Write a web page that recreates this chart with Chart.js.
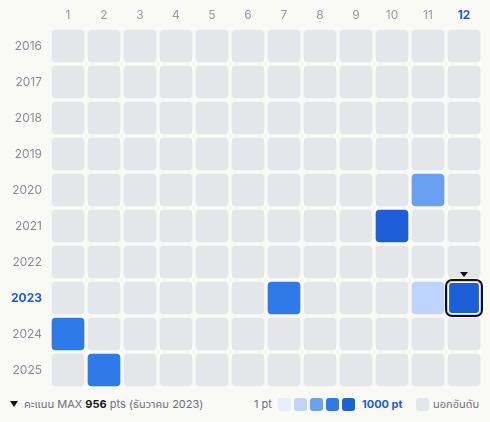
<!DOCTYPE html>
<html>
<head>
<meta charset="utf-8">
<script src="https://cdn.jsdelivr.net/npm/chart.js@4"></script>
<style>
  html, body { margin:0; padding:0; background:#f9f9f6; }
  body { width:490px; height:422px; position:relative; overflow:hidden; font-family: Inter, "Noto Sans", "Noto Sans Thai", sans-serif; }
  #c { position:absolute; left:0; top:0; }
  .lg { position:absolute; top:397px; font-size:11px; line-height:14px; color:#6f6f7c; white-space:nowrap; }
  .sw { position:absolute; top:398px; width:13px; height:13px; border-radius:3px; }
  .tri { position:absolute; left:10px; top:401px; width:0; height:0; border-left:4px solid transparent; border-right:4px solid transparent; border-top:6px solid #111; }
</style>
</head>
<body>
<canvas id="c" width="490" height="390"></canvas>
<div class="tri"></div>
<div class="lg" style="left:24px">คะแนน MAX <b style="color:#1a1a1a">956</b> pts (ธันวาคม 2023)</div>
<div class="lg" style="left:254px">1 pt</div>
<div id="sws"></div>
<div class="lg" style="left:362px;color:#1f5fd6;font-weight:bold">1000 pt</div>
<div class="sw" style="left:416px;background:#e5e6ea"></div>
<div class="lg" style="left:433px">นอกอันดับ</div>
<script>
const months = ['1','2','3','4','5','6','7','8','9','10','11','12'];
const years = [2016,2017,2018,2019,2020,2021,2022,2023,2024,2025];
// scores per year (index = month-1), null = out of ranking
const scores = [
  [null,null,null,null,null,null,null,null,null,null,null,null],
  [null,null,null,null,null,null,null,null,null,null,null,null],
  [null,null,null,null,null,null,null,null,null,null,null,null],
  [null,null,null,null,null,null,null,null,null,null,null,null],
  [null,null,null,null,null,null,null,null,null,null,500,null],
  [null,null,null,null,null,null,null,null,null,900,null,null],
  [null,null,null,null,null,null,null,null,null,null,null,null],
  [null,null,null,null,null,null,700,null,null,null,300,956],
  [700,null,null,null,null,null,null,null,null,null,null,null],
  [null,700,null,null,null,null,null,null,null,null,null,null]
];
const levelColors = ['#e6eefc','#bfd4fa','#6aa0f2','#2f7ae9','#1c5fd6'];
const emptyColor = '#e5e6ea';
const selYear = 2023, selMonth = '12';

function colorFor(v){
  if (v == null) return emptyColor;
  const i = Math.min(4, Math.floor((v-1)/200));
  return levelColors[i];
}

const sws = document.getElementById('sws');
levelColors.forEach((c,i)=>{
  const d = document.createElement('div');
  d.className='sw'; d.style.left=(278+i*16)+'px'; d.style.background=c;
  sws.appendChild(d);
});

const data = [], colors = [];
years.forEach((y,yi)=>{
  months.forEach((m,mi)=>{
    data.push({x:m, y:[y-0.444, y+0.444]});
    colors.push(colorFor(scores[yi][mi]));
  });
});

const selPlugin = {
  id:'sel',
  afterDatasetsDraw(chart){
    const ctx = chart.ctx, xs = chart.scales.x, ys = chart.scales.y;
    const cx = xs.getPixelForValue(months.indexOf(selMonth));
    const top = ys.getPixelForValue(selYear-0.444), bot = ys.getPixelForValue(selYear+0.444);
    const h = bot-top, w = 32;
    ctx.save();
    ctx.lineWidth = 1.2; ctx.strokeStyle = '#ffffff';
    ctx.beginPath(); ctx.roundRect(cx-w/2+0.5, top+0.5, w-1, h-1, 3); ctx.stroke();
    ctx.lineWidth = 2; ctx.strokeStyle = '#111111';
    ctx.beginPath(); ctx.roundRect(cx-w/2-2, top-2, w+4, h+4, 6); ctx.stroke();
    ctx.fillStyle = '#111111';
    ctx.beginPath(); ctx.moveTo(cx-4, top-10); ctx.lineTo(cx+4, top-10); ctx.lineTo(cx, top-5); ctx.closePath(); ctx.fill();
    ctx.restore();
  }
};

const isSelX = c => c && c.tick && months[c.index] === selMonth;
const isSelY = c => c && c.tick && c.tick.value === selYear;

new Chart(document.getElementById('c'), {
  type:'bar',
  data:{ labels: months, datasets:[{ data, backgroundColor: colors, borderRadius:4, borderSkipped:false, barThickness:32 }] },
  options:{
    responsive:false, animation:false,
    layout:{ padding:{ left:0, right:8, top:0, bottom:2 } },
    plugins:{ legend:{display:false}, tooltip:{enabled:false} },
    scales:{
      x:{ position:'top', grid:{display:false, drawTicks:false}, border:{display:false},
          afterFit: s => { s.height = 28; s.paddingLeft = 0; s.paddingRight = 0; },
          ticks:{ padding:5,
            color: c => isSelX(c) ? '#1f5fd6' : '#9a9aa5',
            font: c => ({ family:'Inter, "Noto Sans", sans-serif', size:12, weight: isSelX(c) ? 'bold' : 'normal' }) } },
      y:{ type:'linear', reverse:true, min:2015.5, max:2025.5,
          grid:{display:false, drawTicks:false}, border:{display:false},
          afterFit: s => { s.width = 50; s.paddingTop = 0; s.paddingBottom = 0; },
          afterBuildTicks: s => { s.ticks = years.map(v=>({value:v})); },
          ticks:{ padding:8, callback: v => String(v),
            color: c => isSelY(c) ? '#1f5fd6' : '#8e8e9a',
            font: c => ({ family:'Inter, "Noto Sans", sans-serif', size:12, weight: isSelY(c) ? 'bold' : 'normal' }) } }
    }
  },
  plugins:[selPlugin]
});
</script>
</body>
</html>
